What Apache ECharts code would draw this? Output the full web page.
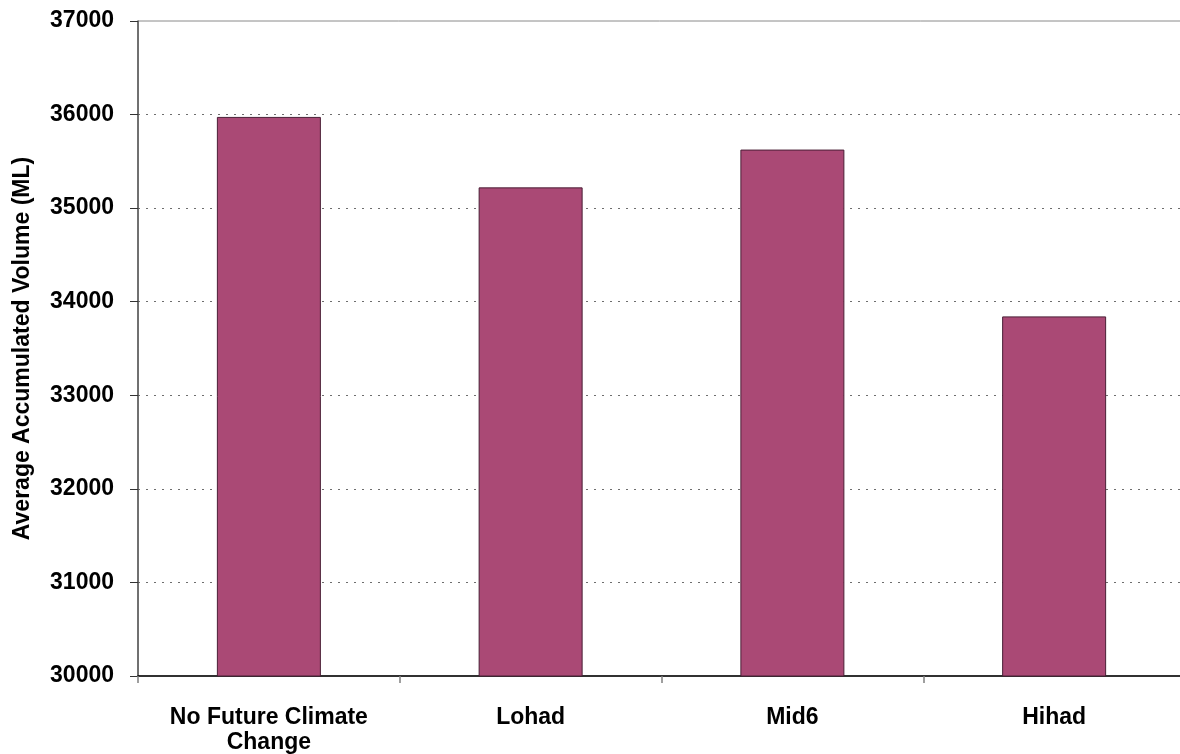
<!DOCTYPE html>
<html>
<head>
<meta charset="utf-8">
<title>Average Accumulated Volume</title>
<script src="https://cdn.jsdelivr.net/npm/echarts@6/dist/echarts.min.js"></script>
<style>
  html, body { margin: 0; padding: 0; background: #ffffff; }
  #chart { width: 1180px; height: 754px; }
</style>
</head>
<body>
<div id="chart"></div>
<script>
// Scenario names along the x axis
const categories = ['No Future Climate\nChange', 'Lohad', 'Mid6', 'Hihad'];
// Average accumulated volume per scenario (ML)
const volumes = [35975, 35222, 35626, 33843];
// Value axis range
const yMin = 30000;
const yMax = 37000;
const yStep = 1000;

const fontFamily = "'Liberation Sans', Arial, sans-serif";

const chart = echarts.init(document.getElementById('chart'), null, { renderer: 'canvas' });

chart.setOption({
  animation: false,
  backgroundColor: '#ffffff',
  grid: {
    left: 138,
    top: 21,
    width: 1047,
    bottom: 78,
    outerBoundsMode: 'none',
    containLabel: false,
    show: true,
    borderColor: '#8a8a8a',
    borderWidth: 1,
    backgroundColor: 'transparent'
  },
  xAxis: {
    type: 'category',
    data: categories,
    boundaryGap: true,
    axisLine: { show: true, lineStyle: { color: '#000000', width: 1.5 } },
    axisTick: { show: true, alignWithLabel: false, length: 7, lineStyle: { color: '#808080', width: 1.5 } },
    axisLabel: {
      interval: 0,
      margin: 29,
      color: '#000000',
      fontFamily: fontFamily,
      fontWeight: 'bold',
      fontSize: 23,
      lineHeight: 25,
      align: 'center'
    },
    splitLine: { show: false }
  },
  yAxis: {
    type: 'value',
    min: yMin,
    max: yMax,
    interval: yStep,
    name: 'Average Accumulated Volume (ML)',
    nameLocation: 'middle',
    nameRotate: 90,
    nameGap: 104,
    nameTextStyle: {
      color: '#000000',
      fontFamily: fontFamily,
      fontWeight: 'bold',
      fontSize: 23
    },
    axisLine: { show: true, lineStyle: { color: '#555555', width: 1.5 } },
    axisTick: { show: true, inside: false, length: 8, lineStyle: { color: '#333333', width: 1 } },
    axisLabel: {
      margin: 24,
      color: '#000000',
      fontFamily: fontFamily,
      fontWeight: 'bold',
      fontSize: 23,
      formatter: (v) => String(v)
    },
    splitLine: {
      show: true,
      showMinLine: false,
      showMaxLine: false,
      lineStyle: { color: '#6e6e6e', width: 1.2, type: [2, 6] }
    }
  },
  series: [{
    type: 'bar',
    data: volumes,
    barWidth: 104,
    itemStyle: {
      color: '#AA4975',
      borderColor: '#4a1f36',
      borderWidth: 1
    },
    emphasis: { disabled: true }
  }]
});
</script>
</body>
</html>
